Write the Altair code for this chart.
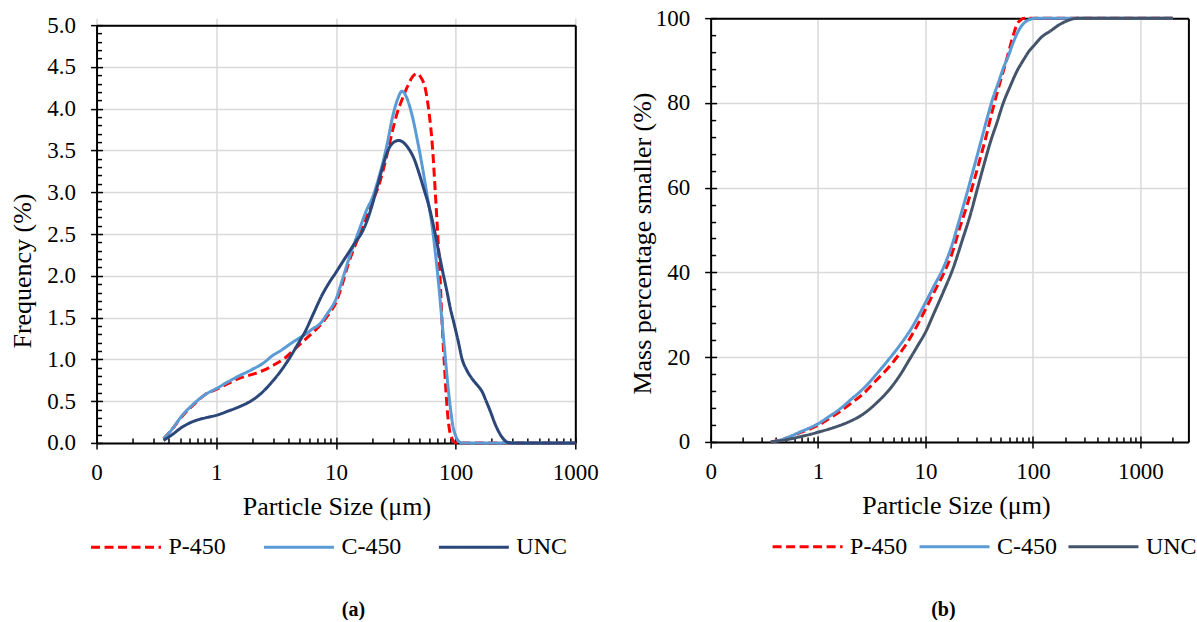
import altair as alt
import pandas as pd

FONT = "Liberation Serif"
SERIES = ["P-450", "C-450", "UNC"]

# ---------------- (a) frequency distribution ----------------
p450_size_a = [0.363, 0.42, 0.52, 0.65, 0.81, 1.0, 1.25, 1.54, 2.0, 2.5, 3.0, 3.78, 4.5, 5.56, 6.5,
               7.6, 8.8, 10, 11.3, 12.8, 15, 17.6, 20, 22.8, 26, 29.5, 32.5, 35.7, 40, 44, 47.7,
               51, 56, 60, 63.6, 67, 70.2, 74, 77.3, 81, 85, 89, 93.5, 100, 120, 1000]
p450_freq_a = [0.05, 0.15, 0.32, 0.46, 0.58, 0.64, 0.71, 0.77, 0.82, 0.87, 0.93, 1.02, 1.12, 1.24, 1.33,
               1.43, 1.55, 1.68, 1.90, 2.16, 2.42, 2.68, 2.88, 3.08, 3.38, 3.72, 3.95, 4.11, 4.28, 4.39, 4.42,
               4.38, 4.23, 3.95, 3.60, 3.10, 2.60, 2.00, 1.40, 0.88, 0.41, 0.15, 0.05, 0.0, 0.0, 0.0]

c450_size_a = [0.363, 0.42, 0.52, 0.65, 0.81, 1.0, 1.25, 1.54, 2.0, 2.5, 2.92, 3.5, 4.2, 5.0, 5.56,
               6.3, 7.4, 8.5, 10, 11.3, 12.8, 14.5, 16.5, 18.2, 20, 22, 24.3, 27, 29.5, 32.5, 35.7,
               38.5, 43.3, 47.5, 52.5, 58, 63.6, 68, 72.4, 77, 82.3, 86, 90.6, 95, 99.8, 106, 113.5, 1000]
c450_freq_a = [0.05, 0.15, 0.33, 0.47, 0.58, 0.65, 0.73, 0.80, 0.88, 0.96, 1.04, 1.11, 1.19, 1.26, 1.30,
               1.36, 1.43, 1.55, 1.72, 1.95, 2.20, 2.42, 2.64, 2.80, 2.92, 3.10, 3.32, 3.60, 3.88, 4.10, 4.21,
               4.15, 3.92, 3.65, 3.32, 2.95, 2.60, 2.25, 1.88, 1.45, 1.00, 0.70, 0.41, 0.20, 0.09, 0.02, 0.0, 0.0]

unc_size_a = [0.363, 0.42, 0.52, 0.65, 0.81, 1.0, 1.25, 1.54, 1.99, 2.4, 2.92, 3.5, 4.03, 4.8, 5.56,
              6.5, 7.6, 8.8, 10, 11.3, 12.8, 14.5, 16.5, 18.2, 20, 22, 24.3, 27.6, 30.5, 33.5, 37,
              40.6, 45, 49.2, 54, 59.7, 66, 72.4, 78, 85, 90, 96.6, 105, 113.5, 124, 137, 150, 167,
              180, 196, 212, 230, 250, 270, 300, 1000]
unc_freq_a = [0.03, 0.09, 0.19, 0.26, 0.30, 0.33, 0.38, 0.43, 0.51, 0.60, 0.73, 0.87, 1.00, 1.18, 1.34,
              1.55, 1.76, 1.92, 2.04, 2.16, 2.28, 2.40, 2.52, 2.66, 2.84, 3.05, 3.28, 3.52, 3.60, 3.62, 3.59,
              3.52, 3.40, 3.24, 3.05, 2.84, 2.57, 2.28, 2.05, 1.80, 1.62, 1.44, 1.22, 1.00, 0.87, 0.77, 0.70, 0.61,
              0.50, 0.37, 0.24, 0.13, 0.05, 0.01, 0.0, 0.0]

# ---------------- (b) cumulative distribution ----------------
p450_size_b = [0.363, 0.45, 0.55, 0.7, 0.85, 1.0, 1.25, 1.6, 2.0, 2.64, 3.5, 4.66, 5.8, 7.15, 8.5, 10,
               12, 14.6, 17.4, 21, 24.2, 28, 32.3, 37, 41.6, 46, 51.5, 56.6, 61.6, 66, 71.3, 77, 83, 2000]
p450_cum_b = [0.0, 0.5, 1.2, 2.3, 3.1, 3.9, 5.4, 7.2, 9.0, 11.4, 14.6, 17.9, 21.0, 24.4, 27.8, 31.3,
              35.3, 39.5, 44.0, 50.8, 55.6, 61.2, 66.9, 72.5, 77.8, 82.0, 86.4, 90.0, 93.5, 96.2, 98.6, 99.6, 100, 100]

c450_size_b = [0.363, 0.45, 0.55, 0.7, 0.85, 1.0, 1.25, 1.6, 2.0, 2.64, 3.5, 4.66, 5.8, 7.15, 8.5, 10,
               12, 14.6, 17.4, 21, 24.5, 28, 32.5, 37.3, 42, 48, 53, 59.5, 65, 71.3, 79, 88.4, 100, 110, 2000]
c450_cum_b = [0.0, 0.5, 1.3, 2.5, 3.4, 4.3, 5.9, 7.8, 9.9, 12.6, 16.0, 19.8, 22.9, 26.2, 29.5, 32.9,
              36.8, 41.0, 46.0, 53.0, 59.0, 64.4, 70.5, 76.2, 80.8, 85.0, 88.2, 91.3, 94.0, 96.4, 98.3, 99.4, 99.9, 100, 100]

unc_size_b = [0.363, 0.45, 0.55, 0.7, 0.85, 1.0, 1.25, 1.6, 2.0, 2.64, 3.5, 4.66, 5.8, 7.15, 8.5, 10,
              12, 14.6, 18.2, 22, 26, 30, 34.8, 40, 46.3, 53, 61.6, 71, 82.4, 92, 102, 120, 146, 175,
              209, 245, 279, 2000]
unc_cum_b = [0.0, 0.3, 0.7, 1.3, 1.8, 2.3, 3.0, 3.9, 4.9, 6.6, 9.2, 12.5, 15.8, 19.6, 22.8, 25.9,
             30.4, 35.3, 41.2, 47.6, 53.4, 59.2, 65.2, 70.6, 75.4, 80.0, 84.0, 87.5, 90.3, 92.2, 93.5, 95.5, 97.0, 98.4,
             99.4, 99.9, 100, 100]

colors_a = ["#FF0000", "#5B9BD5", "#2B4679"]
colors_b = ["#FF0000", "#5B9BD5", "#44546A"]


def table(parts):
    rows = []
    for name, xs, ys in parts:
        rows += [{"series": name, "size": x, "value": y} for x, y in zip(xs, ys)]
    return pd.DataFrame(rows)


df_a = table([("P-450", p450_size_a, p450_freq_a),
              ("C-450", c450_size_a, c450_freq_a),
              ("UNC", unc_size_a, unc_freq_a)])
df_b = table([("P-450", p450_size_b, p450_cum_b),
              ("C-450", c450_size_b, c450_cum_b),
              ("UNC", unc_size_b, unc_cum_b)])


def minor_log(x_max):
    vals = []
    for dec in [0.1, 1, 10, 100, 1000]:
        for k in range(2, 10):
            v = round(dec * k, 4)
            if v <= x_max:
                vals.append(v)
    return vals


def panel(df, x_max, width, height, top_off, y_max, y_step, y_minor_step, y_fmt, ytitle,
          ytitle_x, ytitle_y, xtitle_x, colors, leg_x, leg_y, col_pad,
          caption, cap_x, cap_y):
    xs = alt.Scale(type="log", domain=[0.1, x_max], nice=False)
    ys = alt.Scale(domain=[0, y_max], nice=False, zero=True, range=[height, top_off])
    n_major = int(round(y_max / y_step))
    y_major = [round(i * y_step, 4) for i in range(n_major + 1)]
    n_minor = int(round(y_max / y_minor_step))
    y_minor = [round(i * y_minor_step, 4) for i in range(n_minor + 1)]
    y_minor = [v for v in y_minor if all(abs(v - m) > 1e-6 for m in y_major)]
    x_major = [0.1, 1, 10, 100, 1000]

    leg = alt.Legend(title=None, orient="none", legendX=leg_x, legendY=leg_y,
                     direction="horizontal", symbolType="stroke", symbolSize=4900,
                     symbolStrokeWidth=3, labelFont=FONT, labelFontSize=24,
                     labelColor="black", labelOffset=6, columnPadding=col_pad,
                     padding=0, labelLimit=300)
    color = alt.Color("series:N", sort=SERIES,
                      scale=alt.Scale(domain=SERIES, range=colors), legend=leg)
    dash = alt.StrokeDash("series:N", sort=SERIES,
                          scale=alt.Scale(domain=SERIES, range=[[9, 4.5], [1, 0], [1, 0]]),
                          legend=leg)

    x_main = alt.Axis(orient="bottom", values=x_major,
                      labelExpr="datum.value < 0.5 ? '0' : format(datum.value, 'd')",
                      domain=True, domainColor="black", domainWidth=2,
                      ticks=True, tickSize=6, tickColor="black", tickWidth=1.5,
                      grid=True, gridColor="#d9d9d9", gridWidth=1.5,
                      labelFont=FONT, labelFontSize=23, labelColor="black", labelPadding=13,
                      labelFlush=False, labelOverlap=False,
                      title="Particle Size (\u03bcm)", titleFont=FONT, titleFontSize=26,
                      titleFontWeight="normal", titleColor="black",
                      titleX=xtitle_x, titleY=72, titleBaseline="alphabetic", titleAlign="center")
    y_main = alt.Axis(orient="left", values=y_major,
                      labelExpr="format(datum.value, '%s')" % y_fmt,
                      domain=True, domainColor="black", domainWidth=2,
                      ticks=True, tickSize=6, tickColor="black", tickWidth=1.5,
                      grid=True, gridColor="#d9d9d9", gridWidth=1.5,
                      labelFont=FONT, labelFontSize=23, labelColor="black", labelPadding=15,
                      labelFlush=False, labelOverlap=False,
                      title=ytitle, titleFont=FONT, titleFontSize=26, titleFontWeight="normal",
                      titleColor="black", titleAngle=270, titleX=ytitle_x, titleY=ytitle_y,
                      titleBaseline="bottom", titleAlign="center")

    lines = alt.Chart(df).mark_line(strokeWidth=3, interpolate="monotone").encode(
        x=alt.X("size:Q", scale=xs, axis=x_main),
        y=alt.Y("value:Q", scale=ys, axis=y_main),
        color=color,
        strokeDash=dash,
    )

    x_in = alt.Axis(orient="bottom", values=x_major, offset=-6, tickSize=6, tickColor="black",
                    tickWidth=1.5, domain=False, labels=False, grid=False, title=None)
    y_in = alt.Axis(orient="left", values=y_major, offset=-6, tickSize=6, tickColor="black",
                    tickWidth=1.5, domain=False, labels=False, grid=False, title=None)
    majors_in = alt.Chart(df).mark_line(opacity=0).encode(
        x=alt.X("size:Q", scale=xs, axis=x_in),
        y=alt.Y("value:Q", scale=ys, axis=y_in),
        detail="series:N",
    )

    x_mi = alt.Axis(orient="bottom", values=minor_log(x_max), offset=-5, tickSize=5,
                    tickColor="black", tickWidth=1.5, domain=False, labels=False, grid=False,
                    title=caption, titleFont=FONT, titleFontSize=20, titleFontWeight="bold",
                    titleColor="black", titleX=cap_x, titleY=cap_y,
                    titleBaseline="alphabetic", titleAlign="center")
    y_mi = alt.Axis(orient="left", values=y_minor, offset=-5, tickSize=5, tickColor="black",
                    tickWidth=1.5, domain=False, labels=False, grid=False, title=None)
    minors = alt.Chart(df).mark_line(opacity=0).encode(
        x=alt.X("size:Q", scale=xs, axis=x_mi),
        y=alt.Y("value:Q", scale=ys, axis=y_mi),
        detail="series:N",
    )

    # frame: top and right edges of the plot box
    x_top = alt.Axis(orient="top", offset=-top_off, domain=True, domainColor="black",
                     domainWidth=2, ticks=False, labels=False, grid=False, title=None)
    y_right = alt.Axis(orient="right", domain=True, domainColor="black", domainWidth=2,
                       ticks=False, labels=False, grid=False, title=None)
    frame = alt.Chart(df).mark_line(opacity=0).encode(
        x=alt.X("size:Q", scale=xs, axis=x_top),
        y=alt.Y("value:Q", scale=ys, axis=y_right),
        detail="series:N",
    )

    return alt.layer(lines, majors_in, minors, frame).resolve_axis(
        x="independent", y="independent").properties(width=width, height=height)


# left plot box: 26..444 (group top shared with right panel at 19)
left = panel(df_a, 1000, 479, 425, 7, 5, 0.5, 0.1, ".1f", "Frequency (%)",
             -61.5, 252.5, 240, colors_a, -7, 492.5, 31, "(a)", 256.5, 178)

right = panel(df_b, 2800, 478, 424, 0, 100, 20, 4, "d", "Mass percentage smaller (%)",
              -55.6, 225, 245.4, colors_b, 60.5, 492, 5, "(b)", 232.4, 179)

chart = alt.hconcat(left, right, spacing=30.4).resolve_scale(
    x="independent", y="independent", color="independent", strokeDash="independent"
).resolve_legend(color="independent", strokeDash="independent").properties(
    padding={"left": 8.6, "top": 7, "right": 0, "bottom": 0},
    background="white",
).configure_view(stroke=None)

chart.save("out.html", embed_options={"renderer": "svg", "actions": False})
